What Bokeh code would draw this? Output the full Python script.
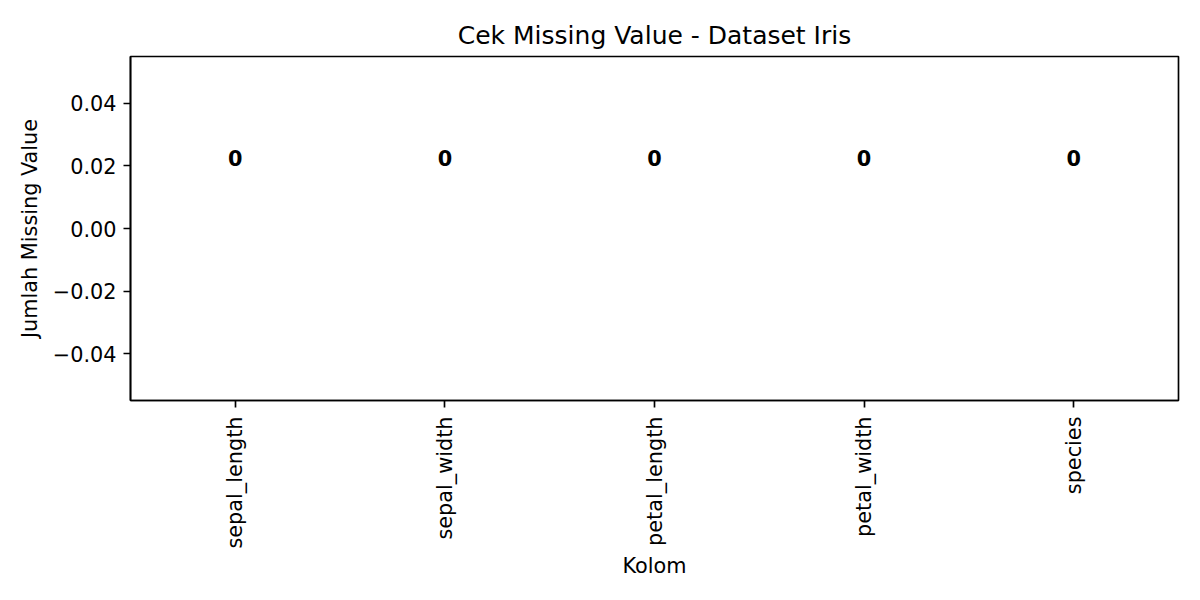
from bokeh.plotting import figure
from bokeh.models import FactorRange, Range1d, FixedTicker, CustomJSTickFormatter, ColumnDataSource
from bokeh.embed import file_html
from bokeh.resources import INLINE
from bokeh.core.properties import value
import math

columns = ["sepal_length", "sepal_width", "petal_length", "petal_width", "species"]
missing = [0, 0, 0, 0, 0]
y_ticks = [-0.04, -0.02, 0.0, 0.02, 0.04]

FONT = "DejaVu Sans"

src = ColumnDataSource(dict(x=columns, top=missing,
                            label_y=[v + 0.02 for v in missing],
                            label=[str(v) for v in missing]))

p = figure(x_range=FactorRange(*columns, range_padding=0),
           y_range=Range1d(-0.055, 0.055),
           frame_width=1048, frame_height=344,
           min_border_left=130, min_border_right=22, min_border_top=56, min_border_bottom=200,
           output_backend="svg", toolbar_location=None,
           title="Cek Missing Value - Dataset Iris")

p.vbar(x="x", top="top", bottom=0, width=0.5, source=src, fill_color="#1f77b4", line_alpha=0)
p.text(x="x", y="label_y", text="label", source=src, text_align="center", text_baseline="bottom",
       text_font=value(FONT), text_font_style="bold", text_font_size="20.8px", text_color="black")

p.title.align = "center"
p.title.text_font = FONT
p.title.text_font_size = "25px"
p.title.text_font_style = "normal"
p.title.text_color = "black"
p.title.standoff = 14

p.xgrid.visible = False
p.ygrid.visible = False
p.outline_line_color = "black"
p.outline_line_width = 1.67
p.outline_line_alpha = 1

for ax in (p.xaxis[0], p.yaxis[0]):
    ax.axis_line_color = "black"
    ax.axis_line_width = 1.67
    ax.major_tick_line_color = "black"
    ax.major_tick_line_width = 1.67
    ax.major_tick_out = 7
    ax.major_tick_in = 0
    ax.minor_tick_line_color = None
    ax.major_label_text_font = FONT
    ax.major_label_text_font_size = "20.8px"
    ax.major_label_text_color = "black"
    ax.axis_label_text_font = FONT
    ax.axis_label_text_font_size = "20.8px"
    ax.axis_label_text_font_style = "normal"
    ax.axis_label_text_color = "black"
    ax.major_label_standoff = 7

p.xaxis.axis_label = "Kolom"
p.xaxis.axis_label_standoff = 2
p.xaxis.major_label_orientation = math.pi / 2
p.xaxis.major_label_standoff = 9
p.xaxis.group_text_font_size = "0px"

p.yaxis.axis_label = "Jumlah Missing Value"
p.yaxis.axis_label_standoff = 8
p.yaxis.ticker = FixedTicker(ticks=y_ticks)
p.yaxis.formatter = CustomJSTickFormatter(code="""
    const v = Math.abs(tick) < 1e-12 ? 0 : tick;
    return (v < 0 ? "\u2212" : "") + Math.abs(v).toFixed(2);
""")

open("out.html", "w").write(file_html(p, INLINE))
